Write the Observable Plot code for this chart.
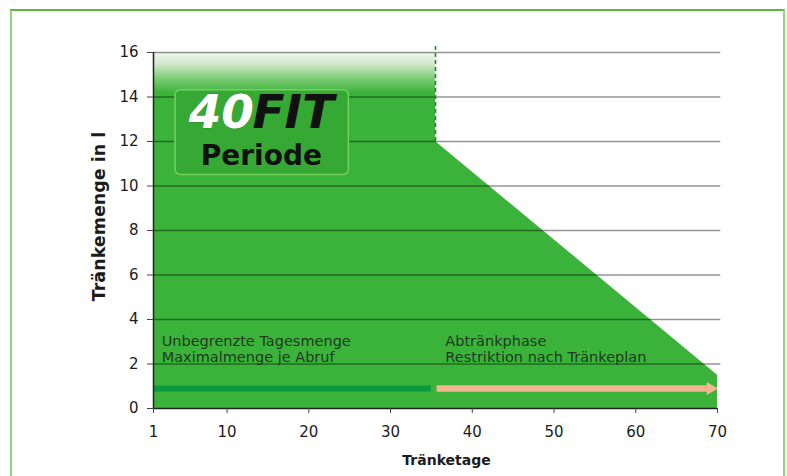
<!DOCTYPE html>
<html>
<head>
<meta charset="utf-8">
<script src="https://cdn.jsdelivr.net/npm/d3@7"></script>
<script src="https://cdn.jsdelivr.net/npm/@observablehq/plot@0.6"></script>
<style>
  html, body { margin: 0; padding: 0; background: #fff; }
  #wrap { position: relative; width: 787px; height: 476px; overflow: hidden; }
  #frame { position: absolute; left: 10px; top: 9px; width: 771px; height: 490px;
           border: 2px solid #93d47f; border-top-color: #55bb40; }
  #chart { position: absolute; left: 0; top: 0; }
</style>
</head>
<body>
<div id="wrap"><div id="frame"></div><div id="chart"></div></div>
<script>
// ---- data ----
const days   = [1, 35.5, 35.5, 70];      // Tränketage
const litres = [16, 16, 12, 1.5];        // Tränkemenge in l
const xTicks = [1, 10, 20, 30, 40, 50, 60, 70];
const yTicks = [0, 2, 4, 6, 8, 10, 12, 14, 16];
const phaseNames  = ["Unbegrenzte Tagesmenge", "Abtränkphase"];
const phaseNotes  = ["Maximalmenge je Abruf", "Restriktion nach Tränkeplan"];
const phaseStart  = [1, 35.7];
const phaseEnd    = [35.0, 69.3];
const phaseLabelX = [2.0, 36.7];
const boundaryDay = 35.5;
const boundaryTop = 16.3;
const arrowLevel  = 0.9;
const badgeLabel  = ["40", "FIT", "Periode"];

const series = days.map((d, i) => ({day: d, litres: litres[i]}));
const phases = phaseNames.map((n, i) => ({name: n, note: phaseNotes[i], start: phaseStart[i], end: phaseEnd[i], lx: phaseLabelX[i]}));
const badge = [{x1: 3.7, x2: 24.9, y1: 10.5, y2: 14.3}];

const GREEN = "#3bb33b";
const PEACH = "#f4b591";

function defs() {
  const ns = "http://www.w3.org/2000/svg";
  const d = document.createElementNS(ns, "defs");
  const g = document.createElementNS(ns, "linearGradient");
  g.setAttribute("id", "topFade");
  g.setAttribute("x1", "0"); g.setAttribute("x2", "0");
  g.setAttribute("y1", "0"); g.setAttribute("y2", "1");
  [[0, "#f2f6f1"], [0.035, "#cfe8cb"], [0.075, "#7ccb74"], [0.115, GREEN], [1, GREEN]].forEach(([o, c]) => {
    const s = document.createElementNS(ns, "stop");
    s.setAttribute("offset", o); s.setAttribute("stop-color", c);
    g.appendChild(s);
  });
  d.appendChild(g);
  return d;
}

const [xMin, xMax] = d3.extent(xTicks);
const [yMin, yMax] = d3.extent(yTicks);

const chart = Plot.plot({
  width: 787,
  height: 476,
  marginLeft: 153,
  marginRight: 70,
  marginTop: 52,
  marginBottom: 68,
  x: {domain: [xMin, xMax], axis: null},
  y: {domain: [yMin, yMax], axis: null},
  style: {fontFamily: "DejaVu Sans", fontSize: "15px", color: "#1b1b1b", background: "transparent"},
  marks: [
    defs,
    Plot.areaY(series, {x: "day", y1: 0, y2: "litres", fill: "url(#topFade)", curve: "linear"}),
    Plot.ruleY(yTicks.filter(d => d > yMin), {x1: xMin, x2: xMax + 0.4, stroke: "#000", strokeOpacity: 0.42, strokeWidth: 1.3}),
    Plot.ruleX([boundaryDay], {y1: 12, y2: boundaryTop, stroke: "#1a8a2c", strokeWidth: 1.6, strokeDasharray: "4,3"}),
    // badge
    Plot.rect(badge, {x1: "x1", x2: "x2", y1: "y1", y2: "y2", fill: "#36a935", stroke: "#72d25c", strokeWidth: 1.5, rx: 5}),
    Plot.text([badgeLabel[0]], {text: d => d, x: 13.3, y: 13.3, textAnchor: "end", fontSize: 47, fontWeight: "bold", fontStyle: "italic", fill: "#fff", stroke: "#2d6b2d", strokeWidth: 0.4, fontFamily: "DejaVu Sans"}),
    Plot.text([badgeLabel[1]], {text: d => d, x: 13.1, y: 13.3, textAnchor: "start", fontSize: 47, fontWeight: "bold", fontStyle: "italic", fill: "#111", fontFamily: "DejaVu Sans"}),
    Plot.text([badgeLabel[2]], {text: d => d, x: 14.2, y: 11.35, fontSize: 28, fontWeight: "bold", fill: "#111", fontFamily: "DejaVu Sans"}),
    // phase labels
    Plot.text(phases, {x: "lx", y: 3.0, text: "name", textAnchor: "start", fontSize: 14.5, fill: "#1d3a1d"}),
    Plot.text(phases, {x: "lx", y: 2.3, text: "note", textAnchor: "start", fontSize: 14.5, fill: "#1d3a1d"}),
    // phase arrows
    Plot.ruleY([phases[0]], {x1: "start", x2: "end", y: arrowLevel, stroke: "#0c983c", strokeWidth: 6}),
    Plot.ruleY([phases[1]], {x1: "start", x2: "end", y: arrowLevel, stroke: PEACH, strokeWidth: 6.5}),
    Plot.dot([phases[1]], {x: xMax, y: arrowLevel, dx: -7, symbol: "triangle", rotate: 90, r: 4.8, fill: PEACH, stroke: "none"}),
    // axes
    Plot.ruleX([xMin], {y1: yMin, y2: yMax, stroke: "#222", strokeWidth: 1.5}),
    Plot.ruleY([yMin], {x1: xMin, x2: xMax, stroke: "#222", strokeWidth: 1.5}),
    Plot.axisY(yTicks, {tickSize: 6, tickPadding: 9, label: null, stroke: "#444", fill: "#1b1b1b"}),
    Plot.axisX(xTicks, {tickSize: 5, tickPadding: 13, label: null, stroke: "#444", fill: "#1b1b1b"}),
    Plot.text(["Tränkemenge in l"], {text: d => d, frameAnchor: "left", textAnchor: "middle", lineAnchor: "middle", rotate: -90, dx: -54.5, dy: -14, fontSize: 17.5, fontWeight: "bold", fill: "#1b1b1b"}),
    Plot.text(["Tränketage"], {text: d => d, frameAnchor: "bottom", textAnchor: "middle", lineAnchor: "middle", dx: 11, dy: 52, fontSize: 14, fontWeight: "bold", fill: "#1b1b1b"})
  ]
});
document.getElementById("chart").appendChild(chart);
</script>
</body>
</html>
